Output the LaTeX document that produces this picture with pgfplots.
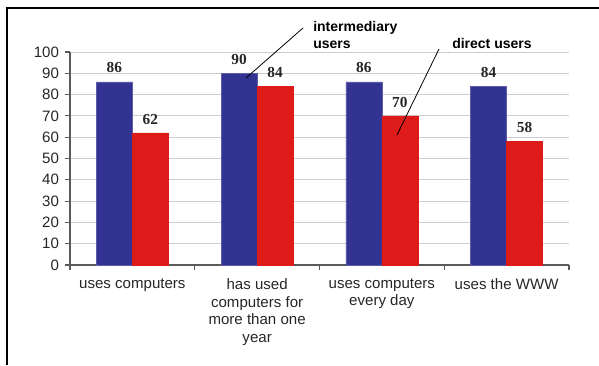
\documentclass[border=0pt]{standalone}
\usepackage{fontspec}
\setmainfont{Liberation Sans}
\newfontfamily\labelserif{Liberation Serif}
\usepackage{pgfplots}
\pgfplotsset{compat=1.18}
\definecolor{barblue}{RGB}{51,51,148}
\definecolor{barred}{RGB}{221,28,26}
\definecolor{gridgray}{RGB}{205,205,205}
\definecolor{axisgray}{RGB}{90,90,90}
\begin{document}
\begin{tikzpicture}
\useasboundingbox (0,0) rectangle (449.25pt,273.75pt);
\draw[black,line width=1.1pt] (5.25pt,0pt) -- (5.25pt,267.75pt) -- (449.25pt,267.75pt);
\begin{axis}[
  at={(52.5pt,75pt)}, anchor=south west,
  scale only axis, width=374.25pt, height=159.75pt,
  xmin=-0.5, xmax=3.5, ymin=0, ymax=100,
  enlargelimits=false,
  ybar=0pt, bar width=27pt,
  axis x line*=bottom, axis y line*=left,
  axis line style={axisgray, line width=0.8pt},
  ytick={0,10,...,100},
  ymajorgrids, grid style={gridgray, line width=0.7pt},
  xtick={-0.5,0.5,1.5,2.5,3.5},
  x tick label as interval,
  xticklabels={uses computers,{has used\\computers for\\more than one\\year},{uses computers\\every day},uses the WWW},
  tick align=outside, major tick length=3.75pt,
  tick style={axisgray, line width=0.8pt},
  /pgf/number format/assume math mode=true,
  ticklabel style={font=\fontsize{11.3}{13.1}\selectfont, text=black!85},
  xticklabel style={align=center, anchor=north, yshift=-3pt},
  yticklabel style={xshift=-1pt},
  nodes near coords,
  every node near coord/.append style={font=\labelserif\bfseries\fontsize{11.5}{12}\selectfont, text=black!85, yshift=3pt},
]
\addplot[fill=barblue, draw=barblue!80!white] coordinates {(0,86) (1,90) (2,86) (3,84)};
\addplot[fill=barred, draw=barred] coordinates {(0,62) (1,84) (2,70) (3,58)};
\end{axis}
\draw[black, line width=0.6pt] (184.5pt,215.25pt) -- (227.25pt,252.75pt);
\draw[black, line width=0.6pt] (297.75pt,172.5pt) -- (329.25pt,237pt);
\node[anchor=base west, inner sep=0pt, font=\bfseries\fontsize{10.5}{12}\selectfont] at (234.75pt,249.75pt) {intermediary};
\node[anchor=base west, inner sep=0pt, font=\bfseries\fontsize{10.5}{12}\selectfont] at (234.75pt,237pt) {users};
\node[anchor=base west, inner sep=0pt, font=\bfseries\fontsize{10.5}{12}\selectfont] at (339pt,237pt) {direct users};
\end{tikzpicture}
\end{document}
